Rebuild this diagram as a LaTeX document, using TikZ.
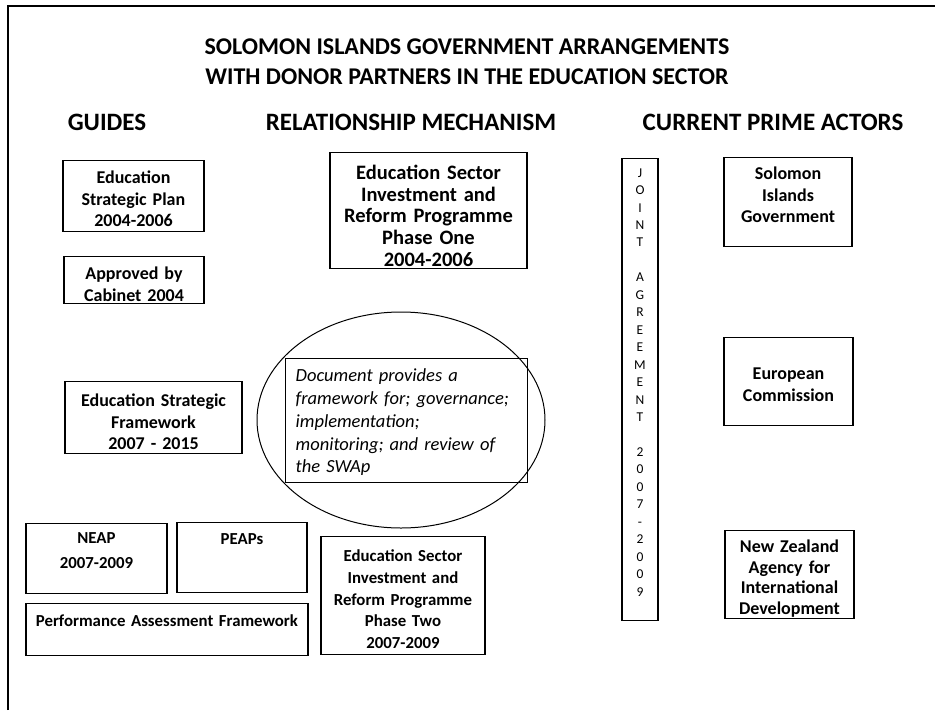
\documentclass[tikz,border=0pt]{standalone}
\usepackage{fontspec}
\setmainfont{Carlito}
\usepackage{tikz}

\tikzset{
  box/.style={draw, line width=1.3pt, align=center, inner sep=0pt,
    font=\bfseries\fontsize{18}{21.5}\selectfont},
  small/.style={font=\bfseries\fontsize{16.8}{21.7}\selectfont},
  head/.style={anchor=base, font=\bfseries\fontsize{25}{30}\selectfont},
}

\begin{document}
\begin{tikzpicture}[x=1pt,y=-1pt]
	 \useasboundingbox (0,0) rectangle (935,710);
	 \draw[line width=1.5pt] (8,710) -- (8,6) -- (935,6);
	 % title and column heads
	 \node[head, font=\bfseries\fontsize{24}{30}\selectfont] (title1) at (467,54) {SOLOMON ISLANDS GOVERNMENT ARRANGEMENTS};
	 \node[head, font=\bfseries\fontsize{24}{30}\selectfont] (title2) at (467,84) {WITH DONOR PARTNERS IN THE EDUCATION SECTOR};
	 \node[head] (guides) at (107,130) {GUIDES};
	 \node[head] (mech) at (411,130) {RELATIONSHIP MECHANISM};
	 \node[head] (actors) at (773,130) {CURRENT PRIME ACTORS};
	 % guides
	 \node[box, anchor=north, text width=141, text height=23, text depth=48] (esp) at (133.5,160) {Education\\Strategic Plan\\2004-2006};
	 \node[box, anchor=north, text width=140, text height=23, text depth=24] (cabinet) at (134,256) {Approved by\\Cabinet 2004};
	 \node[box, anchor=north, text width=177, text height=25, text depth=47] (esf) at (153.5,381) {Education Strategic\\Framework\\2007 - 2015};
	 \node[box, small, anchor=north, text width=141, text height=20, text depth=50,
	   font=\bfseries\fontsize{16.8}{25}\selectfont] (neap) at (96.5,523) {NEAP\\2007-2009};
	 \node[box, small, anchor=north, text width=130, text height=22, text depth=48] (peaps) at (242,522) {PEAPs};
	 \node[box, small, anchor=north, text width=282, text height=23, text depth=29] (paf) at (167,603) {Performance Assessment Framework};
	 % relationship mechanism
	 \node[box, anchor=north, text width=197, text height=27, text depth=89,
	   font=\bfseries\fontsize{20.5}{21.6}\selectfont] (esirp1) at (428.5,152) {Education Sector\\Investment and\\Reform Programme\\Phase One\\2004-2006};
	 \draw[line width=1pt] (401,420) ellipse [x radius=144, y radius=108];
	 \node[box, anchor=north west, align=left, inner xsep=10, text width=222, text height=23, text depth=101,
	   font=\itshape\fontsize{18.5}{22.8}\selectfont] (swap) at (285,358)
	   {Document provides a\\framework for; governance;\\implementation;\\monitoring; and review of\\the SWAp};
	 \node[box, small, anchor=north, text width=164, text height=25, text depth=93] (esirp2) at (403,536) {Education Sector\\Investment and\\Reform Programme\\Phase Two\\2007-2009};
	 % joint agreement bar
	 \node[box, anchor=north, text width=36, text height=18.5, text depth=443.5,
	   font=\fontsize{13.5}{17.46}\selectfont] (joint) at (640,158)
	   {J\\O\\I\\N\\T\\[17.46pt]A\\G\\R\\E\\E\\M\\E\\N\\T\\[17.46pt]2\\0\\0\\7\\-\\2\\0\\0\\9};
	 % prime actors
	 \node[box, anchor=north, text width=128, text height=22, text depth=67] (sig) at (788,157) {Solomon\\Islands\\Government};
	 \node[box, anchor=north, text width=129, text height=42, text depth=46] (ec) at (788.5,337) {European\\Commission};
	 \node[box, anchor=north, text width=129, text height=22, text depth=66, font=\bfseries\fontsize{18}{20.5}\selectfont] (nzaid) at (789.5,530) {New Zealand\\Agency for\\International\\Development};
\end{tikzpicture}
\end{document}
